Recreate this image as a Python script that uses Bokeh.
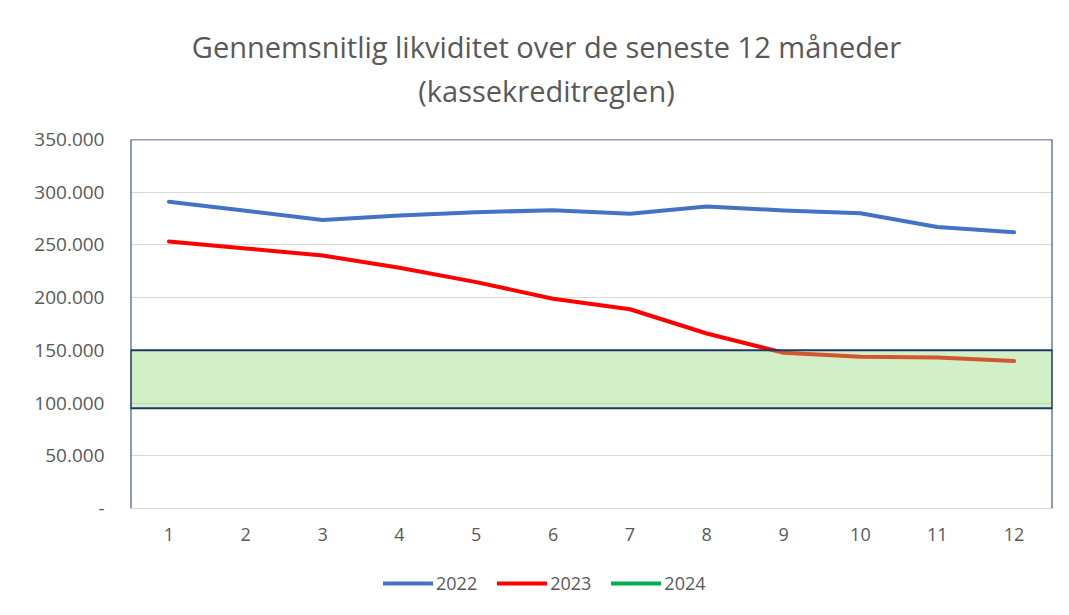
import numpy as np
from bokeh.plotting import figure
from bokeh.models import FixedTicker, Legend, LegendItem, Span, Label
from bokeh.layouts import column
from bokeh.embed import file_html
from bokeh.resources import INLINE

months = [1, 2, 3, 4, 5, 6, 7, 8, 9, 10, 11, 12]
y2022 = [291000, 282500, 273700, 278000, 281000, 283000, 279600, 286500, 282700, 280000, 267000, 262000]
y2023 = [253300, 246700, 240000, 228400, 214700, 199000, 189000, 166000, 147700, 144000, 143300, 139800]
y2024 = [np.nan] * 12  # no 2024 values yet (legend entry only)
band_low = 95000
band_high = 150000
y_ticks = [0, 50000, 100000, 150000, 200000, 250000, 300000, 350000]
y_tick_labels = ["-", "50.000", "100.000", "150.000", "200.000", "250.000", "300.000", "350.000"]
series_names = ["2022", "2023", "2024"]
series_colors = ["#4472c4", "#ff0000", "#00b050"]
title_1 = "Gennemsnitlig likviditet over de seneste 12 måneder"
title_2 = "(kassekreditreglen)"

FONT = "Open Sans"
GRAY = "#595959"
NAVY = "#1f3864"
W = 1061
LEFT, RIGHT = 130, 9


def bare(h):
    f = figure(width=W, height=h, output_backend="svg", toolbar_location=None,
               x_range=(LEFT, W - RIGHT), y_range=(0, h),
               x_axis_location=None, y_axis_location=None, title_location=None,
               min_border_left=LEFT, min_border_right=RIGHT, min_border_top=0, min_border_bottom=0)
    f.outline_line_color = None
    f.xgrid.grid_line_color = None
    f.ygrid.grid_line_color = None
    return f

# ---- title block
TH = 118
pt = bare(TH)
pt.add_layout(Label(x=546, y=TH - 46, text=title_1, text_font=FONT, text_font_size="29px",
                    text_color=GRAY, text_align="center", text_baseline="middle"))
pt.add_layout(Label(x=546, y=TH - 90, text=title_2, text_font=FONT, text_font_size="29px",
                    text_color=GRAY, text_align="center", text_baseline="middle"))

# ---- main chart
p = figure(width=W, height=442, output_backend="svg", toolbar_location=None,
           x_range=(0.5, 12.5), y_range=(0, 350000), title_location=None,
           min_border_left=LEFT, min_border_right=RIGHT, min_border_top=139 - TH,
           min_border_bottom=52)
p.outline_line_color = None
p.xgrid.grid_line_color = None
p.ygrid.grid_line_color = "#d9d9d9"
p.ygrid.ticker = FixedTicker(ticks=y_ticks)

p.yaxis.ticker = FixedTicker(ticks=y_ticks)
p.yaxis.major_label_overrides = {t: l for t, l in zip(y_ticks, y_tick_labels)}
p.yaxis.axis_line_color = None
p.yaxis.major_tick_line_color = None
p.yaxis.minor_tick_line_color = None
p.yaxis.major_label_standoff = 20
p.yaxis.major_label_text_font = FONT
p.yaxis.major_label_text_font_size = "19px"
p.yaxis.major_label_text_color = GRAY

p.xaxis.ticker = FixedTicker(ticks=months)
p.xaxis.axis_line_color = "#d9d9d9"
p.xaxis.major_tick_line_color = None
p.xaxis.minor_tick_line_color = None
p.xaxis.major_label_standoff = 13
p.xaxis.major_label_text_font = FONT
p.xaxis.major_label_text_font_size = "18px"
p.xaxis.major_label_text_color = GRAY

for ys, c in zip([y2022, y2023, y2024], series_colors):
    p.line(months, ys, line_color=c, line_width=4, line_cap="round", line_join="round")

p.quad(left=[0.5], right=[12.5], bottom=[band_low], top=[band_high],
       fill_color="#8ed975", fill_alpha=0.4, line_color=NAVY, line_width=2)

for loc in (0.5, 12.5):
    p.add_layout(Span(location=loc, dimension="height", line_color=NAVY, line_width=2))
p.add_layout(Span(location=350000, dimension="width", line_color=NAVY, line_width=1.5))

# ---- legend block (series drawn off-range, used only for the legend)
pl = bare(47)
items = []
for name, ys, c in zip(series_names, [y2022, y2023, y2024], series_colors):
    r = pl.line(months, ys, line_color=c, line_width=4, line_cap="round")
    items.append(LegendItem(label=name, renderers=[r]))
legend = Legend(items=items, orientation="horizontal", location=(253, 12),
                glyph_width=50, glyph_height=20, label_standoff=3, spacing=20,
                padding=0, margin=0, border_line_color=None, background_fill_alpha=0,
                label_text_font=FONT, label_text_font_size="18px", label_text_color=GRAY)
pl.add_layout(legend, "center")

layout = column(pt, p, pl, spacing=0)
open("out.html", "w").write(file_html(layout, INLINE))
